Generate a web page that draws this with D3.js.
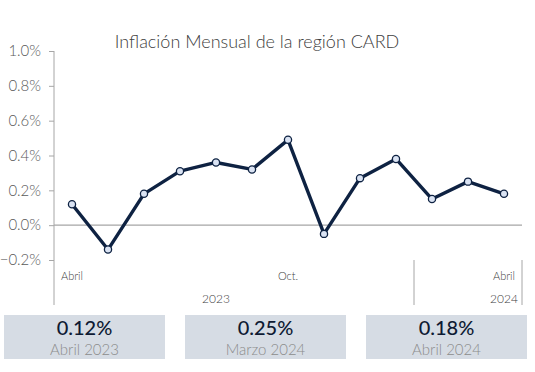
<!DOCTYPE html>
<html><head><meta charset="utf-8">
<script src="https://cdn.jsdelivr.net/npm/d3@7"></script>
<style>
html,body{margin:0;padding:0;background:#fff;}
svg{display:block;font-family:Lato,"Noto Sans",sans-serif;}
</style></head>
<body><svg id="c" width="535" height="372"></svg>
<script>
const months = ["Abr","May","Jun","Jul","Ago","Sep","Oct","Nov","Dic","Ene","Feb","Mar","Abr"];
const values = [0.12,-0.14,0.18,0.31,0.36,0.32,0.49,-0.05,0.27,0.38,0.15,0.25,0.18];
const yTicks = [-0.2,0,0.2,0.4,0.6,0.8,1.0];
const monthLabels = [{i:0,t:"Abril"},{i:6,t:"Oct."},{i:12,t:"Abril"}];
const yearLabels = [{from:0,to:8,t:"2023"},{from:12,to:12,t:"2024"}];
const separators = [10,13];
const cardValues = ["0.12%","0.25%","0.18%"];
const cardLabels = ["Abril 2023","Marzo 2024","Abril 2024"];

const svg = d3.select("#c");
const x = d3.scaleBand().domain(d3.range(months.length)).range([54,522]);
const y = d3.scaleLinear().domain([-0.2,1.0]).range([260,51]);
const cx = i => x(i)+x.bandwidth()/2;

svg.append("text").attr("x",257).attr("y",48).attr("text-anchor","middle")
  .attr("font-size",18).attr("font-weight",300).attr("fill","#404040")
  .text("Inflación Mensual de la región CARD");

const yAxis = d3.axisLeft(y).tickValues(yTicks).tickSize(5).tickFormat(d=>d3.format(".1f")(d)+"%");
const ga = svg.append("g").attr("transform","translate(54,0)").call(yAxis);
ga.select(".domain").remove();
ga.selectAll(".tick line").attr("stroke","#a6a6a6");
ga.selectAll(".tick text").attr("x",-13).attr("font-size",15).attr("font-weight",300)
  .attr("fill","#595959").attr("font-family","Lato,sans-serif");

svg.append("line").attr("x1",54).attr("x2",54).attr("y1",y(1.0)).attr("y2",305).attr("stroke","#a6a6a6");
svg.append("line").attr("x1",54).attr("x2",522).attr("y1",y(0)).attr("y2",y(0)).attr("stroke","#a6a6a6").attr("stroke-width",1.2);

separators.forEach(s=>{
  const xx = 54 + s*x.bandwidth();
  svg.append("line").attr("x1",xx).attr("x2",xx).attr("y1",260).attr("y2",305).attr("stroke","#a6a6a6");
});

monthLabels.forEach(m=>{
  svg.append("text").attr("x",cx(m.i)).attr("y",280).attr("text-anchor","middle")
    .attr("font-size",11).attr("font-weight",300).attr("fill","#404040").text(m.t);
});
yearLabels.forEach(m=>{
  svg.append("text").attr("x",(cx(m.from)+cx(m.to))/2).attr("y",303).attr("text-anchor","middle")
    .attr("font-size",12).attr("font-weight",300).attr("fill","#404040").text(m.t);
});

const line = d3.line().x((d,i)=>cx(i)).y(d=>y(d));
svg.append("path").datum(values).attr("d",line).attr("fill","none")
  .attr("stroke","#0e2242").attr("stroke-width",3.4).attr("stroke-linejoin","round");
svg.selectAll("circle.pt").data(values).enter().append("circle")
  .attr("cx",(d,i)=>cx(i)).attr("cy",d=>y(d)).attr("r",3.6)
  .attr("fill","#dae3f3").attr("stroke","#0e2242").attr("stroke-width",1.3);

const cardX = d3.scalePoint().domain(d3.range(cardValues.length)).range([4,366]);
cardValues.forEach((v,i)=>{
  const g = svg.append("g").attr("transform",`translate(${cardX(i)},315)`);
  g.append("rect").attr("width",161).attr("height",44).attr("fill","#d6dce4");
  g.append("text").attr("x",80.5).attr("y",20).attr("text-anchor","middle")
    .attr("font-size",20).attr("font-weight",500).attr("fill","#0e1a33").text(v);
  g.append("text").attr("x",80.5).attr("y",40).attr("text-anchor","middle")
    .attr("font-size",15).attr("font-weight",300).attr("fill","#8c8c8c").text(cardLabels[i]);
});
</script></body></html>
